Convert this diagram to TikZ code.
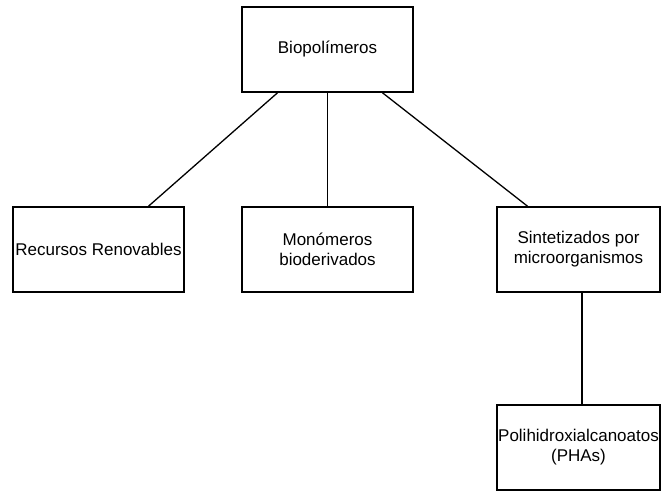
\documentclass[tikz,border=0pt]{standalone}
\usepackage{fontspec}
\setmainfont{Liberation Sans}
\usetikzlibrary{calc}
\begin{document}
\begin{tikzpicture}[x=1pt,y=-1pt,
  box/.style={draw, line width=1.6pt, minimum width=171pt, minimum height=85pt, inner sep=0pt, align=center, font=\fontsize{17}{20}\selectfont},
  link/.style={line width=1.3pt}]
\useasboundingbox (0,0) rectangle (661,495);
\node[box] (bio) at (327.5,49.5) {Biopolímeros};
\node[box] (rec) at (98.5,249.5) {Recursos Renovables};
\node[box] (mon) at (327.5,249.5) {Monómeros\\bioderivados};
\node[box, minimum width=163pt] (sin) at (578.5,249.5) {Sintetizados por\\microorganismos};
\node[box, minimum width=163pt] (pha) at (578.5,447.5) {Polihidroxialcanoatos\\(PHAs)};
\draw[link] ($(bio.south)+(-50,0)$) -- ($(rec.north)+(50,0)$);
\draw[link] (bio.south) -- (mon.north);
\draw[link] ($(bio.south)+(55,0)$) -- ($(sin.north)+(-51,0)$);
\draw[link] ($(sin.south)+(3.5,0)$) -- ($(pha.north)+(3.5,0)$);
\end{tikzpicture}
\end{document}
